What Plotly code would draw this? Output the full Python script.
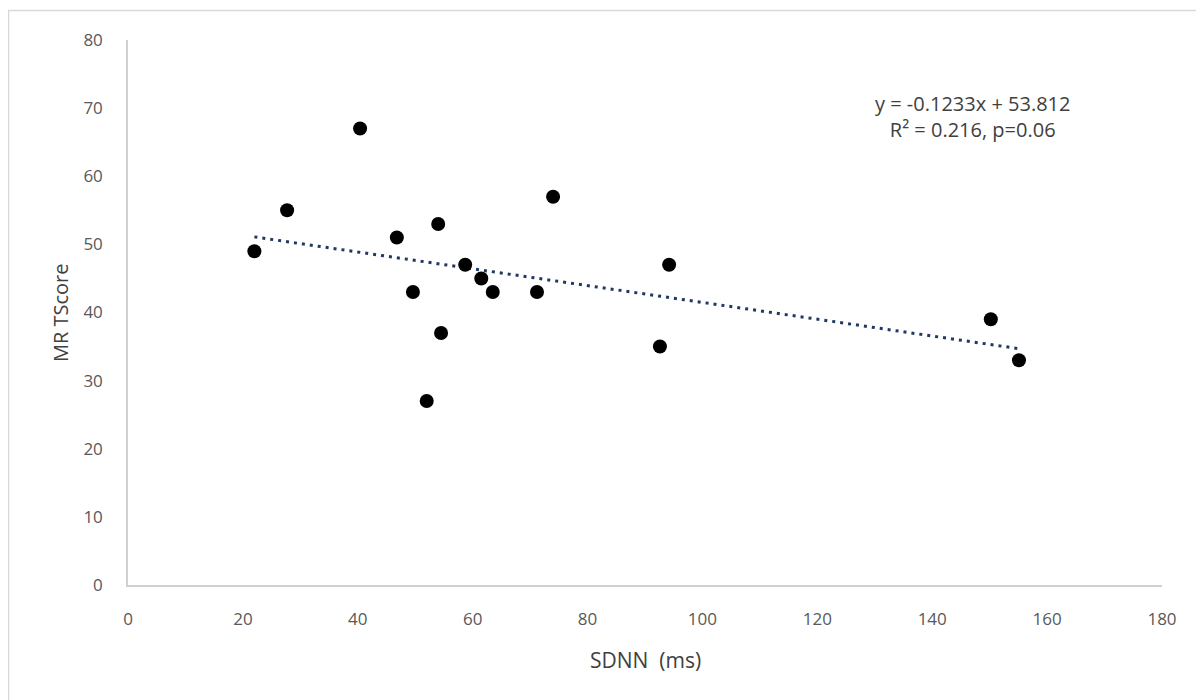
import plotly.graph_objects as go

sdnn = [22, 27.7, 40.4, 46.8, 49.6, 54, 54.5, 52, 58.7, 61.5, 63.5, 71.2, 74, 92.6, 94.2, 150.2, 155.1]
mr_tscore = [49, 55, 67, 51, 43, 53, 37, 27, 47, 45, 43, 43, 57, 35, 47, 39, 33]
slope = -0.1233
intercept = 53.812
x_ticks = [0, 20, 40, 60, 80, 100, 120, 140, 160, 180]
y_ticks = [0, 10, 20, 30, 40, 50, 60, 70, 80]

# figure is drawn 8px in from the page corner (body margin)
W, H = 1196, 692
L, T = 120, 32
PW, PH = 1034, 545
R, B = W - L - PW, H - T - PH


def px(x):
    return (x - L) / PW


def py(y):
    return (T + PH - y) / PH


trend_x = [min(sdnn), max(sdnn)]
trend_y = [slope * v + intercept for v in trend_x]

fig = go.Figure()
fig.add_trace(go.Scatter(x=trend_x, y=trend_y, mode="lines",
                         line=dict(color="#1f3864", width=3, dash="3px,5px"),
                         hoverinfo="skip", showlegend=False))
fig.add_trace(go.Scatter(x=sdnn, y=mr_tscore, mode="markers",
                         marker=dict(color="black", size=14),
                         showlegend=False))

font_fam = "Open Sans, Noto Sans, sans-serif"
fig.update_layout(
    width=W, height=H,
    margin=dict(l=L, r=R, t=T, b=B),
    paper_bgcolor="white", plot_bgcolor="white",
    font=dict(family=font_fam, size=17, color="#595959"),
    xaxis=dict(range=[0, 180], tickvals=x_ticks, showgrid=False, zeroline=False,
               showline=True, linecolor="#d0d0d0", linewidth=1.5,
               ticks="", ticklabelstandoff=18),
    yaxis=dict(range=[0, 80], tickvals=y_ticks, showgrid=False, zeroline=False,
               showline=True, linecolor="#d0d0d0", linewidth=1.5,
               ticks="", ticklabelstandoff=20),
    annotations=[
        dict(x=px(964), y=py(109), xref="paper", yref="paper", showarrow=False,
             xanchor="center", yanchor="middle",
             text="y = -0.1233x + 53.812<br>R² = 0.216, p=0.06",
             font=dict(size=20, color="#404040", family=font_fam), align="center"),
        dict(x=px(637), y=py(652), xref="paper", yref="paper", showarrow=False,
             xanchor="center", yanchor="middle", text="SDNN  (ms)",
             font=dict(size=21, color="#404040", family=font_fam)),
        dict(x=px(52), y=py(305), xref="paper", yref="paper", showarrow=False,
             xanchor="center", yanchor="middle", text="MR TScore", textangle=-90,
             font=dict(size=20, color="#404040", family=font_fam)),
    ],
    shapes=[dict(type="rect", xref="paper", yref="paper",
                 x0=px(0.5), x1=1.2, y0=-0.4, y1=py(2.5),
                 line=dict(color="#d9d9d9", width=1.5), layer="below")],
)
fig.write_html("out.html")
